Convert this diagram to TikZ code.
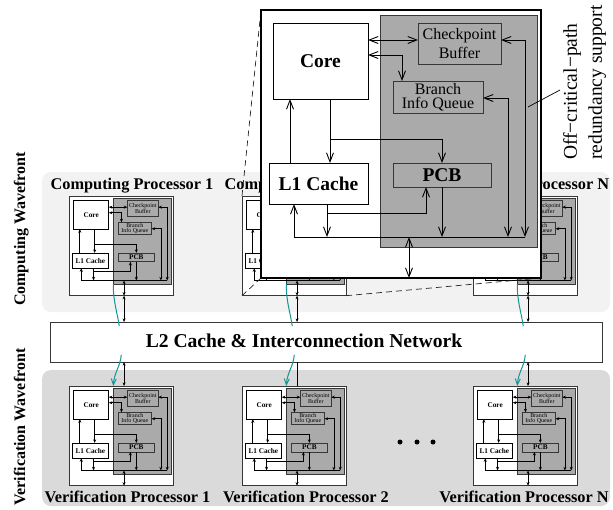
\documentclass[tikz,border=0pt]{standalone}
\usepackage{fontspec}
\setmainfont{Liberation Serif}
\usetikzlibrary{arrows.meta,calc}

\definecolor{panelc}{RGB}{242,242,242}
\definecolor{panelv}{RGB}{218,218,218}
\definecolor{unitgray}{RGB}{170,170,170}
\definecolor{edgegray}{RGB}{55,55,55}
\definecolor{linkteal}{RGB}{20,150,150}

% font sizes
\newcommand\fcore{\fontsize{19.5}{22}\selectfont\bfseries}
\newcommand\fcb{\fontsize{16}{18.5}\selectfont}
\newcommand\fbiq{\fontsize{16}{14.5}\selectfont}
\newcommand\flab{\fontsize{16.3}{19}\selectfont\bfseries}
\newcommand\fwave{\fontsize{16}{19}\selectfont\bfseries}
\newcommand\fltwo{\fontsize{19.6}{23}\selectfont\bfseries}
\newcommand\foff{\fontsize{19.5}{25}\selectfont}

\pgfdeclarelayer{front}
\pgfsetlayers{main,front}

\tikzset{
  wbox/.style={draw=black, fill=white, inner sep=0pt, outer sep=0pt},
  unit/.style={draw=edgegray, fill=unitgray, inner sep=0pt, outer sep=0pt},
  pbox/.style={draw=edgegray},
  panel/.style={draw=none, rounded corners=9pt, inner sep=0pt, outer sep=0pt},
  bigtips/.style={>={Straight Barb[length=9pt,width=7pt]}, line width=0.9pt},
  smalltips/.style={>={Stealth[length=3.6pt,width=3pt]}, line width=0.7pt},
  teallink/.style={draw=linkteal, line width=1pt},
  zoomline/.style={draw=black!85, line width=0.7pt, dash pattern=on 6pt off 4pt},
}

% one processor: core, L1, checkpoint buffer, branch info queue, PCB and bus
\newcommand\drawproc[2]{%
\begin{scope}[#2]
  \node[wbox, pbox, minimum width=280, minimum height=268] (#1box) at (140,134) {};
  \node[unit, minimum width=157, minimum height=232] (#1gray) at (197.5,121) {};
  \node[wbox, minimum width=95, minimum height=76, font=\fcore] (#1core) at (59.5,51) {Core};
  \node[unit, minimum width=83, minimum height=41, font=\fcb, align=center] (#1cb) at (198.5,33.5) {Checkpoint\\Buffer};
  \node[unit, minimum width=90, minimum height=32, font=\fbiq, align=center] (#1biq) at (177,87) {Branch\\Info Queue};
  \node[wbox, minimum width=99, minimum height=41, font=\fcore] (#1l1) at (57.5,173.5) {L1 Cache};
  \node[unit, minimum width=98, minimum height=24, font=\fcore] (#1pcb) at (181,165) {PCB};
  \coordinate (#1ya) at (0,30);
  \coordinate (#1yb) at (0,45);
  \coordinate (#1yd) at (0,88);
  \coordinate (#1ye) at (0,129);
  \coordinate (#1yh) at (0,203);
  \coordinate (#1bus) at (0,227);
  \coordinate (#1xb) at (141,0);
  \coordinate (#1xc) at (264,0);
  \coordinate (#1xd) at (247,0);
  \coordinate (#1xe) at (69,0);
  \coordinate (#1xg) at (29,0);
  \coordinate (#1xh) at (66,0);
  \coordinate (#1xi) at (165,0);
  \coordinate (#1xj) at (148,0);
  \coordinate (#1xk) at (33,0);
  \draw[<->] (#1core.east |- #1ya) -- (#1cb.west |- #1ya);
  \draw[<->] (#1core.east |- #1yb) -| (#1xb |- #1biq.north);
  \draw[<->] (#1cb.east |- #1ya) -| (#1xc |- #1bus);
  \draw[<->] (#1biq.east |- #1yd) -| (#1xd |- #1bus);
  \draw[->] (#1pcb.south) -- (#1pcb.south |- #1bus);
  \draw[->] (#1xe |- #1core.south) -- (#1xe |- #1l1.north);
  \draw[->] (#1xe |- #1ye) -| (#1pcb.north);
  \draw[->] (#1xg |- #1l1.north) -- (#1xg |- #1core.south);
  \draw[->] (#1xh |- #1l1.south) -- (#1xh |- #1bus);
  \draw[->] (#1xh |- #1yh) -| (#1xi |- #1pcb.south);
  \draw[->] (#1xc |- #1bus) -| (#1xk |- #1l1.south);
  \draw[<->] (#1xj |- #1bus) -- (#1xj |- #1box.south);
\end{scope}}

\begin{document}
\begin{tikzpicture}[x=1pt, y=-1pt]
\useasboundingbox (0,0) rectangle (613,509);

% wavefront panels
\node[panel, fill=panelc, minimum width=568, minimum height=140] (cpanel) at (326,242) {};
\node[panel, fill=panelv, minimum width=568, minimum height=136] (vpanel) at (326,438) {};

% small processors
\drawproc{c1}{shift={(69,196)}, scale=0.372, transform shape, smalltips}
\drawproc{c2}{shift={(242,196)}, scale=0.372, transform shape, smalltips}
\drawproc{cN}{shift={(473,196)}, scale=0.372, transform shape, smalltips}
\drawproc{v1}{shift={(69,386)}, scale=0.372, transform shape, smalltips}
\drawproc{v2}{shift={(242,386)}, scale=0.372, transform shape, smalltips}
\drawproc{vN}{shift={(473,386)}, scale=0.372, transform shape, smalltips}

% processor labels
\node[anchor=base, font=\flab] (c1lab) at (132,189) {Computing Processor 1};
\node[anchor=base, font=\flab] (c2lab) at (306,189) {Computing Processor 2};
\node[anchor=base, font=\flab] (cNlab) at (526,189) {Computing Processor N};
\node[anchor=base, font=\flab] (v1lab) at (127.5,502) {Verification Processor 1};
\node[anchor=base, font=\flab] (v2lab) at (306,502) {Verification Processor 2};
\node[anchor=base, font=\flab] (vNlab) at (524,502) {Verification Processor N};

% shared L2 cache
\node[draw=edgegray, fill=white, line width=0.9pt, inner sep=0pt, outer sep=0pt,
      minimum width=552, minimum height=40] (l2) at (326,342) {};
\node[anchor=base, font=\fltwo] (l2text) at (304,347) {L2 Cache \& Interconnection Network};

% links to the L2 cache
\begin{scope}[smalltips]
  \draw[<->] (c1xj |- c1box.south) -- (c1xj |- l2.north);
  \draw[<->] (c2xj |- c2box.south) -- (c2xj |- l2.north);
  \draw[<->] (cNxj |- cNbox.south) -- (cNxj |- l2.north);
  \draw[<->] (v1xj |- l2.south) -- (v1xj |- v1box.north);
  \draw (v2xj |- l2.south) -- (v2xj |- v2box.north);
  \draw[<->] (vNxj |- l2.south) -- (vNxj |- vNbox.north);
\end{scope}

% forwarding from computing to verification processors
\foreach \c/\v in {c1/v1, c2/v2, cN/vN}{
  \draw[teallink] (\c gray.south west) .. controls +(0,18) and +(-2,-14) .. ($(\c gray.south west)+(6,42)$);
  \draw[teallink, -{Straight Barb[length=6pt,width=5pt]}]
    ($(\v gray.north west)+(8,-33)$) .. controls +(-1,12) and +(1,-14) .. (\v gray.north west |- \v box.north);
}

% more processors
\node[circle, fill=black, inner sep=0pt, minimum size=5] (dot1) at (400,442) {};
\node[circle, fill=black, inner sep=0pt, minimum size=5] (dot2) at (417,442) {};
\node[circle, fill=black, inner sep=0pt, minimum size=5] (dot3) at (433,442) {};

% enlarged processor
\begin{pgfonlayer}{front}
  \drawproc{b}{shift={(261,10)}, bigtips, pbox/.style={draw=black, line width=1.2pt}}
  \node[rotate=90, anchor=north west, align=left, font=\foff, inner sep=0pt] (offlab) at (563,160)
    {Off−critical−path\\redundancy support};
  \coordinate (leadin) at (528,107);
  \coordinate (leadout) at (560,90);
  \draw[line width=0.7pt] (leadin) -- (leadout);
\end{pgfonlayer}

% zoom guides
\draw[zoomline] (c2box.north west) -- (bbox.north west);
\draw[zoomline] (c2box.south west) -- (bbox.south west);
\draw[zoomline] (c2box.south east) -- (bbox.south east);
\draw[zoomline] (c2box.north east) -- (bbox.north east);

% wavefront labels
\node[rotate=90, anchor=base, font=\fwave] (cwave) at (25,229) {Computing Wavefront};
\node[rotate=90, anchor=base, font=\fwave] (vwave) at (25,427) {Verification Wavefront};
\end{tikzpicture}
\end{document}
